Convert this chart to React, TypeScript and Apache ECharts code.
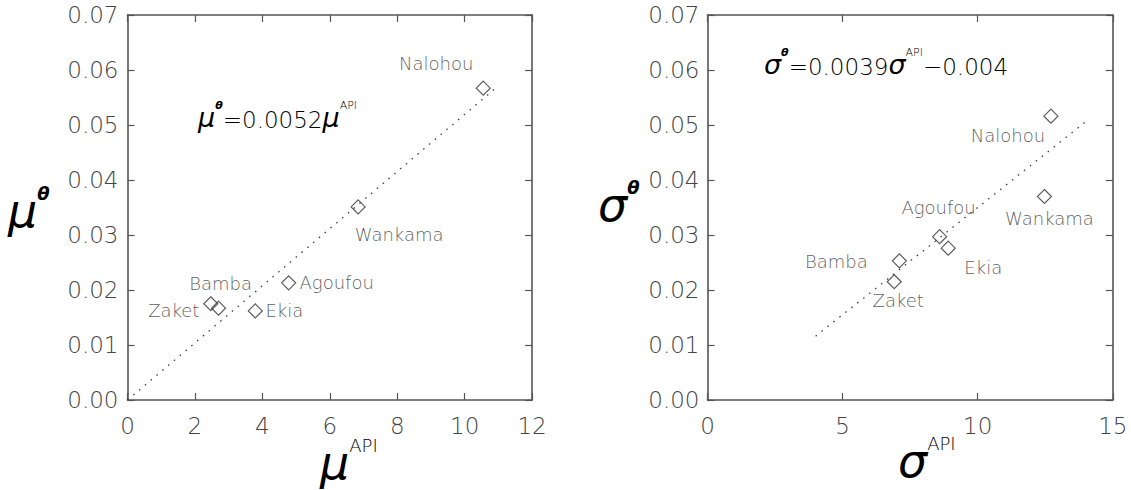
import React, { useEffect, useRef } from "react";
import * as echarts from "echarts";

const stations = ["Nalohou", "Wankama", "Agoufou", "Ekia", "Bamba", "Zaket"];
const muAPI = [10.55, 6.84, 4.78, 3.79, 2.7, 2.47];
const muTheta = [0.0567, 0.0351, 0.0213, 0.0162, 0.0167, 0.0175];
const sigmaAPI = [12.71, 12.47, 8.59, 8.91, 7.1, 6.91];
const sigmaTheta = [0.0516, 0.037, 0.0297, 0.0276, 0.0253, 0.0215];
const muFitX = [0, 10.9];
const muFitY = [0, 0.0566];
const sigmaFitX = [4.0, 14.0];
const sigmaFitY = [0.0116, 0.0506];
const muXTicks = { min: 0, max: 12, interval: 2 };
const sigmaXTicks = { min: 0, max: 15, interval: 5 };
const yTicks = { min: 0, max: 0.07, interval: 0.01 };

// label offsets (px) relative to each marker
const muLabelOffsets = [[-47, -25], [41, 28], [48, 0], [29, 0], [2, -25], [-37, 7]];
const sigmaLabelOffsets = [[-43, 19], [5, 22], [-1, -29], [35, 19], [-63, 1], [4, 19]];

const FONT = "DejaVu Sans";
const GREEK = "DejaVu Sans";
const AXIS_COLOR = "#555";
const TEXT_COLOR = "#444";

function axisCommon(show: boolean) {
  return {
    type: "value" as const,
    axisLine: { show: true, onZero: false, lineStyle: { color: AXIS_COLOR, width: 1.6 } },
    axisTick: { show: true, inside: true, length: 7, lineStyle: { color: AXIS_COLOR, width: 1.2 } },
    splitLine: { show: false },
    axisLabel: {
      show,
      color: TEXT_COLOR,
      fontSize: 23,
      fontFamily: FONT,
      fontWeight: 300 as any,
    },
  };
}

export default function App() {
  const ref = useRef<HTMLDivElement>(null);
  useEffect(() => {
    if (!ref.current) return;
    const chart = echarts.init(ref.current, undefined, { renderer: "svg" });

    const scatterData = (xs: number[], ys: number[], offs: number[][]) =>
      stations.map((n, i) => ({
        name: n,
        value: [xs[i], ys[i]],
        label: { offset: offs[i] },
      }));

    const scatterStyle = {
      type: "scatter" as const,
      symbol: "diamond",
      symbolSize: 14,
      itemStyle: { color: "rgba(255,255,255,0)", borderColor: "#333", borderWidth: 1.2 },
      label: {
        show: true,
        position: "inside" as const,
        formatter: "{b}",
        color: "#333",
        fontSize: 18,
        fontFamily: FONT,
        fontWeight: 300 as any,
      },
      z: 3,
    };

    const lineStyle = {
      type: "line" as const,
      showSymbol: false,
      symbol: "none",
      lineStyle: { color: "#444", width: 1.3, type: [1.6, 6] as any },
      z: 2,
    };

    const supRich = (base: number) => ({
      g: { fontFamily: GREEK, fontStyle: "italic", fontWeight: 200, fontSize: base, color: "#222", lineHeight: base + 4, verticalAlign: "bottom" },
      th: { fontFamily: "DejaVu Sans", fontStyle: "italic", fontWeight: "bold", fontSize: Math.round(base * 0.4), color: "#333", verticalAlign: "top", lineHeight: base + 4 },
      api: { fontFamily: FONT, fontWeight: 300, fontSize: Math.round(base * 0.4), color: "#333", verticalAlign: "top", lineHeight: base + 4 },
      n: { fontFamily: FONT, fontWeight: 300, fontSize: 23, color: "#333", lineHeight: base + 4, verticalAlign: "bottom" },
    });

    chart.setOption({
      animation: false,
      backgroundColor: "#fff",
      grid: [
        { left: 127.5, top: 15, width: 404.6, height: 385 },
        { left: 707.5, top: 15, width: 405.3, height: 385 },
      ],
      xAxis: [
        { ...axisCommon(true), gridIndex: 0, position: "bottom", ...muXTicks, axisLabel: { ...axisCommon(true).axisLabel, margin: 14 } },
        { ...axisCommon(false), gridIndex: 0, position: "top", ...muXTicks },
        { ...axisCommon(true), gridIndex: 1, position: "bottom", ...sigmaXTicks, axisLabel: { ...axisCommon(true).axisLabel, margin: 14 } },
        { ...axisCommon(false), gridIndex: 1, position: "top", ...sigmaXTicks },
      ],
      yAxis: [
        { ...axisCommon(true), gridIndex: 0, position: "left", ...yTicks, axisLabel: { ...axisCommon(true).axisLabel, margin: 9, formatter: (v: number) => v.toFixed(2) } },
        { ...axisCommon(false), gridIndex: 0, position: "right", ...yTicks },
        { ...axisCommon(true), gridIndex: 1, position: "left", ...yTicks, axisLabel: { ...axisCommon(true).axisLabel, margin: 8, formatter: (v: number) => v.toFixed(2) } },
        { ...axisCommon(false), gridIndex: 1, position: "right", ...yTicks },
      ],
      series: [
        { ...lineStyle, xAxisIndex: 0, yAxisIndex: 0, data: muFitX.map((x, i) => [x, muFitY[i]]) },
        { ...scatterStyle, xAxisIndex: 0, yAxisIndex: 0, data: scatterData(muAPI, muTheta, muLabelOffsets) },
        { ...lineStyle, xAxisIndex: 2, yAxisIndex: 2, data: sigmaFitX.map((x, i) => [x, sigmaFitY[i]]) },
        { ...scatterStyle, xAxisIndex: 2, yAxisIndex: 2, data: scatterData(sigmaAPI, sigmaTheta, sigmaLabelOffsets) },
      ],
      graphic: [
        {
          type: "text", left: 198, top: 100,
          style: { text: "{g|μ}{th|θ}{n|=0.0052}{g|μ}{api|API}", rich: supRich(27) as any },
        },
        {
          type: "text", left: 764, top: 47,
          style: { text: "{g|σ}{th|θ}{n|=0.0039}{g|σ}{api|API}{n|−0.004}", rich: supRich(27) as any },
        },
        {
          type: "text", left: 8, top: 184,
          style: { text: "{g|μ}{th|θ}", rich: supRich(46) as any },
        },
        {
          type: "text", left: 320, top: 436,
          style: { text: "{g|μ}{api|API}", rich: supRich(46) as any },
        },
        {
          type: "text", left: 598, top: 178,
          style: { text: "{g|σ}{th|θ}", rich: supRich(46) as any },
        },
        {
          type: "text", left: 898, top: 434,
          style: { text: "{g|σ}{api|API}", rich: supRich(46) as any },
        },
      ],
    });
    return () => chart.dispose();
  }, []);
  return (
    <div
      ref={ref}
      style={{ position: "fixed", left: 0, top: 0, width: 1131, height: 490, background: "#fff" }}
    />
  );
}
